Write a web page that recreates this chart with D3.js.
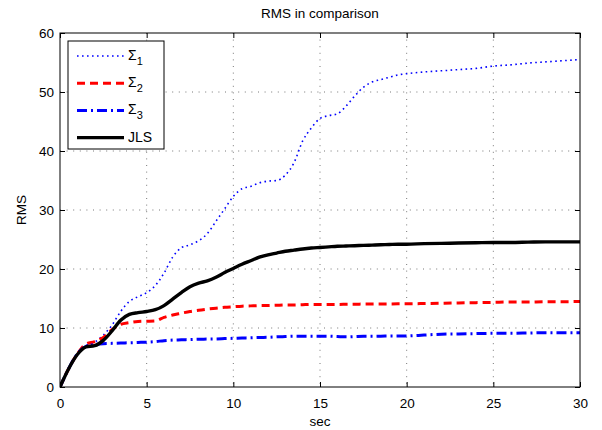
<!DOCTYPE html>
<html>
<head>
<meta charset="utf-8">
<script src="https://cdn.jsdelivr.net/npm/d3@7"></script>
<style>
  body { margin: 0; background: #fff; }
  text { font-family: 'Liberation Sans', Arial, sans-serif; fill: #000; }
</style>
</head>
<body>
<div id="chart"></div>
<script>
// sample times (sec)
const t = [0, 0.5, 1, 1.5, 2, 2.5, 3, 3.5, 4, 4.5, 5, 5.5, 6, 6.5, 7, 7.5, 8, 8.5, 9, 9.5,
  10, 10.5, 11, 11.5, 12, 12.5, 13, 13.5, 14, 14.5, 15, 15.5, 16, 16.5, 17, 17.5, 18, 18.5, 19, 19.5,
  20, 21, 22, 23, 24, 25, 26, 27, 28, 29, 30];

const sigma1 = [0, 3.1, 5.6, 7.0, 7.6, 8.8, 10.5, 12.8, 14.5, 15.3, 16.0, 17.2, 19.3, 22.0, 23.6, 24.1, 24.8, 26.0, 28.1, 30.2,
  32.3, 33.6, 34.0, 34.6, 34.9, 35.0, 35.9, 38.0, 41.7, 43.9, 45.5, 46.0, 46.3, 47.6, 49.3, 50.8, 51.7, 52.1, 52.5, 52.9,
  53.1, 53.4, 53.6, 53.8, 54.0, 54.4, 54.6, 54.9, 55.1, 55.3, 55.5];

const sigma2 = [0, 3.1, 5.6, 7.3, 7.7, 8.4, 9.7, 10.6, 10.9, 11.1, 11.15, 11.2, 11.8, 12.2, 12.5, 12.8, 13.0, 13.2, 13.35, 13.5,
  13.6, 13.7, 13.75, 13.8, 13.8, 13.85, 13.9, 13.9, 13.95, 14.0, 14.0, 14.0, 14.0, 14.02, 14.04, 14.05, 14.06, 14.07, 14.08, 14.09,
  14.1, 14.15, 14.2, 14.25, 14.3, 14.35, 14.4, 14.4, 14.45, 14.45, 14.5];

const sigma3 = [0, 3.1, 5.6, 6.9, 7.2, 7.35, 7.4, 7.45, 7.5, 7.55, 7.6, 7.7, 7.85, 7.95, 8.0, 8.05, 8.1, 8.12, 8.15, 8.2,
  8.25, 8.3, 8.35, 8.4, 8.42, 8.5, 8.55, 8.6, 8.6, 8.6, 8.6, 8.6, 8.55, 8.5, 8.55, 8.6, 8.6, 8.62, 8.63, 8.64,
  8.65, 8.8, 8.95, 9.0, 9.05, 9.1, 9.1, 9.15, 9.2, 9.2, 9.2];

const jls = [0, 3.1, 5.5, 6.8, 7.0, 7.9, 9.5, 11.3, 12.3, 12.6, 12.8, 13.1, 13.8, 14.9, 16.0, 17.0, 17.6, 18.0, 18.6, 19.4,
  20.1, 20.8, 21.4, 22.0, 22.4, 22.7, 23.0, 23.2, 23.4, 23.55, 23.65, 23.75, 23.85, 23.9, 23.95, 24.0, 24.05, 24.1, 24.15, 24.2,
  24.2, 24.3, 24.35, 24.4, 24.45, 24.5, 24.5, 24.55, 24.6, 24.6, 24.6];

const xTicks = [0, 5, 10, 15, 20, 25, 30];
const yTicks = [0, 10, 20, 30, 40, 50, 60];

const series = [
  { name: 'Σ', sub: '1', values: sigma1, color: '#0000ff', width: 1.6, dash: '1.6,3.4' },
  { name: 'Σ', sub: '2', values: sigma2, color: '#ff0000', width: 3, dash: '8,5' },
  { name: 'Σ', sub: '3', values: sigma3, color: '#0000ff', width: 3, dash: '10,4,2,4' },
  { name: 'JLS', sub: '', values: jls, color: '#000000', width: 3.4, dash: null }
];

const W = 602, H = 430;
const margin = { top: 33, right: 22, bottom: 43, left: 60 };
const width = W - margin.left - margin.right;
const height = H - margin.top - margin.bottom;

const svg = d3.select('#chart').append('svg')
  .attr('width', W).attr('height', H);

const g = svg.append('g')
  .attr('transform', `translate(${margin.left},${margin.top})`);

const x = d3.scaleLinear().domain([0, 30]).range([0, width]);
const y = d3.scaleLinear().domain([0, 60]).range([height, 0]);

// grid
g.append('g').selectAll('line').data(xTicks.slice(1, -1)).enter().append('line')
  .attr('x1', d => x(d)).attr('x2', d => x(d))
  .attr('y1', 0).attr('y2', height)
  .attr('stroke', '#555').attr('stroke-width', 0.8).attr('stroke-dasharray', '1,5.6');
g.append('g').selectAll('line').data(yTicks.slice(1, -1)).enter().append('line')
  .attr('y1', d => y(d)).attr('y2', d => y(d))
  .attr('x1', 0).attr('x2', width)
  .attr('stroke', '#555').attr('stroke-width', 0.8).attr('stroke-dasharray', '1,5.6');

// axes with inward ticks (matlab style)
const fontSize = '13.5px';
const xAxis = g.append('g').attr('transform', `translate(0,${height})`)
  .call(d3.axisBottom(x).tickValues(xTicks).tickSizeInner(-5).tickSizeOuter(0).tickPadding(11));
const yAxis = g.append('g')
  .call(d3.axisLeft(y).tickValues(yTicks).tickSizeInner(-5).tickSizeOuter(0).tickPadding(6));
g.append('g')
  .call(d3.axisTop(x).tickValues(xTicks).tickSizeInner(-5).tickSizeOuter(0).tickFormat(''));
g.append('g').attr('transform', `translate(${width},0)`)
  .call(d3.axisRight(y).tickValues(yTicks).tickSizeInner(-5).tickSizeOuter(0).tickFormat(''));

g.selectAll('.domain').remove();
g.selectAll('.tick line').attr('stroke', '#000');
xAxis.selectAll('text').style('font-size', fontSize).attr('dy', '0.71em');
yAxis.selectAll('text').style('font-size', fontSize);

// lines
const line = d3.line()
  .x((d, i) => x(t[i]))
  .y(d => y(d))
  .curve(d3.curveMonotoneX);

g.append('clipPath').attr('id', 'clip')
  .append('rect').attr('width', width).attr('height', height);

g.append('g').attr('clip-path', 'url(#clip)')
  .selectAll('path').data(series).enter().append('path')
  .attr('d', d => line(d.values))
  .attr('fill', 'none')
  .attr('stroke', d => d.color)
  .attr('stroke-width', d => d.width)
  .attr('stroke-dasharray', d => d.dash);

// frame
g.append('rect').attr('width', width).attr('height', height)
  .attr('fill', 'none').attr('stroke', '#000').attr('stroke-width', 1);

// titles
svg.append('text').attr('x', margin.left + width / 2).attr('y', 18)
  .attr('text-anchor', 'middle').style('font-size', fontSize).text('RMS in comparison');
svg.append('text').attr('x', margin.left + width / 2).attr('y', 426)
  .attr('text-anchor', 'middle').style('font-size', fontSize).text('sec');
svg.append('text').attr('transform', `translate(26,${margin.top + height / 2}) rotate(-90)`)
  .attr('text-anchor', 'middle').style('font-size', fontSize).text('RMS');

// legend
const legend = svg.append('g').attr('transform', 'translate(68,41)');
legend.append('rect').attr('width', 96).attr('height', 108)
  .attr('fill', '#fff').attr('stroke', '#000').attr('stroke-width', 1);
const item = legend.selectAll('.item').data(series).enter().append('g')
  .attr('transform', (d, i) => `translate(0,${15 + i * 27.2})`);
item.append('line').attr('x1', 9).attr('x2', 56)
  .attr('stroke', d => d.color)
  .attr('stroke-width', d => d.width)
  .attr('stroke-dasharray', d => d.dash);
const lt = item.append('text').attr('x', 60).attr('y', 4)
  .style('font-size', '14px');
lt.append('tspan').text(d => d.name);
lt.append('tspan').attr('dy', 5).style('font-size', '11px').text(d => d.sub);
</script>
</body>
</html>
